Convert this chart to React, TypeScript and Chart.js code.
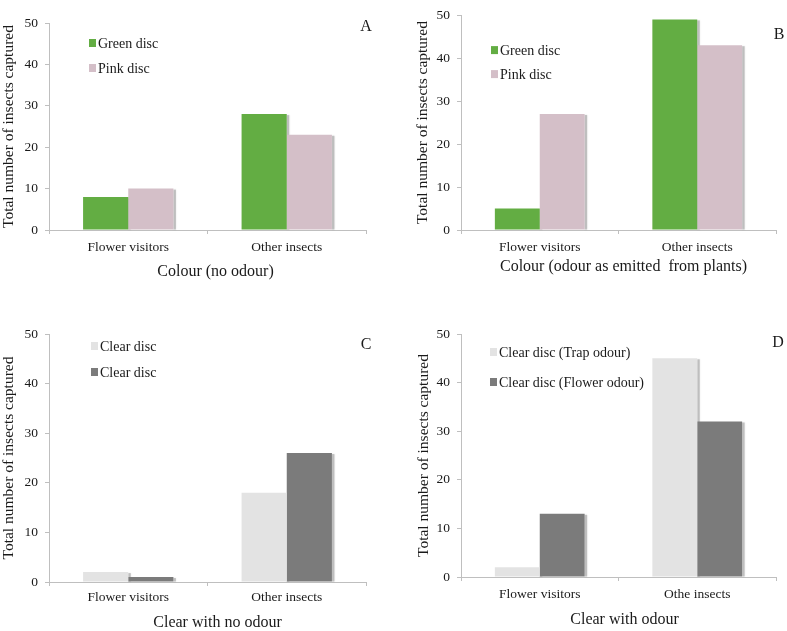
import React, { useEffect, useRef } from "react";
import { Chart, registerables } from "chart.js";

Chart.register(...registerables);

// ---------- data ----------
const categoriesA = ["Flower visitors", "Other insects"];
const categoriesB = ["Flower visitors", "Other insects"];
const categoriesC = ["Flower visitors", "Other insects"];
const categoriesD = ["Flower visitors", "Othe insects"];

const greenA = [8, 28];
const pinkA = [10, 23];
const greenB = [5, 49];
const pinkB = [27, 43];
const clearC1 = [2, 18];
const clearC2 = [1, 26];
const trapOdourD = [2, 45];
const flowerOdourD = [13, 32];

const yMin = 0;
const yMax = 50;
const yStep = 10;

// ---------- styles ----------
const FONT = '"Liberation Serif", "Times New Roman", serif';
const GREEN = "#63ad43";
const PINK = "#d4bfc8";
const LIGHT = "#e3e3e3";
const DARK = "#7b7b7b";
const AXIS = "#bfbfbf";
const TEXT = "#1a1a1a";

const shadowPlugin = {
  id: "barShadow",
  beforeDatasetsDraw(chart: any) {
    const ctx = chart.ctx;
    ctx.save();
    ctx.shadowColor = "rgba(0,0,0,0.25)";
    ctx.shadowBlur = 2;
    ctx.fillStyle = "rgba(150,150,150,0.5)";
    chart.data.datasets.forEach((_: any, i: number) => {
      const meta = chart.getDatasetMeta(i);
      meta.data.forEach((el: any) => {
        const right = el.x + el.width / 2;
        ctx.fillRect(right, el.y + 1, 2.5, el.base - el.y - 1);
      });
    });
    ctx.restore();
  },
};

const boxLegendPlugin = {
  id: "boxLegend",
  afterDraw(chart: any, _args: any, opts: any) {
    const ctx = chart.ctx;
    const ca = chart.chartArea;
    ctx.save();
    ctx.font = `14px ${FONT}`;
    ctx.textBaseline = "middle";
    ctx.textAlign = "left";
    chart.data.datasets.forEach((ds: any, i: number) => {
      const cy = ca.top + opts.dy[i];
      const x = ca.left + opts.dx;
      ctx.fillStyle = ds.backgroundColor;
      ctx.fillRect(x, cy - 4, 7, 8);
      ctx.fillStyle = TEXT;
      ctx.fillText(ds.label, x + 9, cy + 1);
    });
    ctx.restore();
  },
};

const textPlugin = {
  id: "panelText",
  afterDraw(chart: any, _args: any, opts: any) {
    const ctx = chart.ctx;
    const ca = chart.chartArea;
    ctx.save();
    ctx.textBaseline = "middle";
    ctx.textAlign = "center";
    ctx.fillStyle = TEXT;
    ctx.font = `16px ${FONT}`;
    ctx.fillText(opts.letter, ca.right + opts.letterDx, ca.top + opts.letterDy);
    ctx.fillText(
      opts.xTitle,
      (ca.left + ca.right) / 2 + opts.titleDx,
      ca.bottom + opts.titleDy
    );
    ctx.restore();
  },
};

type PanelProps = {
  left: number;
  top: number;
  width: number;
  height: number;
  padLeft: number;
  padTop: number;
  padRight: number;
  yWidth: number;
  xHeight: number;
  tickPad: number;
  labels: string[];
  series: { label: string; data: number[]; color: string }[];
  xTitle: string;
  titleDx: number;
  titleDy: number;
  letter: string;
  letterDx: number;
  letterDy: number;
  legendDx: number;
  legendDy: number[];
};

function Panel(p: PanelProps) {
  const ref = useRef<HTMLCanvasElement | null>(null);
  useEffect(() => {
    if (!ref.current) return;
    const chart = new Chart(ref.current, {
      type: "bar",
      data: {
        labels: p.labels,
        datasets: p.series.map((s) => ({
          label: s.label,
          data: s.data,
          backgroundColor: s.color,
          borderWidth: 0,
          categoryPercentage: 0.57,
          barPercentage: 1,
        })),
      },
      options: {
        animation: false,
        responsive: false,
        maintainAspectRatio: false,
        layout: {
          padding: { left: p.padLeft, top: p.padTop, right: p.padRight, bottom: 0 },
        },
        plugins: {
          legend: { display: false },
          tooltip: { enabled: false },
          boxLegend: { dx: p.legendDx, dy: p.legendDy },
          panelText: {
            letter: p.letter,
            letterDx: p.letterDx,
            letterDy: p.letterDy,
            xTitle: p.xTitle,
            titleDx: p.titleDx,
            titleDy: p.titleDy,
          },
        } as any,
        scales: {
          x: {
            grid: {
              display: true,
              drawOnChartArea: false,
              drawTicks: true,
              tickLength: 4,
              color: AXIS,
              offset: true,
            },
            border: { display: true, color: AXIS, width: 1 },
            ticks: {
              color: TEXT,
              font: { family: FONT, size: 13.5 },
              padding: p.tickPad,
              maxRotation: 0,
            },
            afterFit: (s: any) => {
              s.height = p.xHeight;
            },
          },
          y: {
            min: yMin,
            max: yMax,
            grid: {
              display: true,
              drawOnChartArea: false,
              drawTicks: true,
              tickLength: 4,
              color: AXIS,
            },
            border: { display: true, color: AXIS, width: 1 },
            ticks: {
              stepSize: yStep,
              color: TEXT,
              font: { family: FONT, size: 13.5 },
              padding: 7,
            },
            title: {
              display: true,
              text: "Total number of insects captured",
              color: TEXT,
              font: { family: FONT, size: 15.5, lineHeight: 1 },
              padding: { top: 0, bottom: 0 },
            },
            afterFit: (s: any) => {
              s.width = p.yWidth;
            },
          },
        },
      },
      plugins: [shadowPlugin, boxLegendPlugin, textPlugin],
    });
    return () => chart.destroy();
  }, []);
  return (
    <canvas
      ref={ref}
      width={p.width}
      height={p.height}
      style={{
        position: "absolute",
        left: p.left,
        top: p.top,
        width: p.width,
        height: p.height,
      }}
    />
  );
}

export default function App() {
  return (
    <div
      style={{
        position: "absolute",
        left: 0,
        top: 0,
        width: 787,
        height: 631,
        background: "#ffffff",
        overflow: "hidden",
      }}
    >
      <Panel
        left={0}
        top={0}
        width={393}
        height={290}
        padLeft={1}
        padTop={23}
        padRight={27}
        yWidth={48}
        xHeight={60}
        tickPad={5}
        labels={categoriesA}
        series={[
          { label: "Green disc", data: greenA, color: GREEN },
          { label: "Pink disc", data: pinkA, color: PINK },
        ]}
        xTitle="Colour (no odour)"
        titleDx={8}
        titleDy={42}
        letter="A"
        letterDx={0}
        letterDy={4}
        legendDx={40}
        legendDy={[20, 45]}
      />
      <Panel
        left={393}
        top={0}
        width={394}
        height={290}
        padLeft={22}
        padTop={7}
        padRight={11}
        yWidth={46}
        xHeight={60}
        tickPad={5}
        labels={categoriesB}
        series={[
          { label: "Green disc", data: greenB, color: GREEN },
          { label: "Pink disc", data: pinkB, color: PINK },
        ]}
        xTitle="Colour (odour as emitted  from plants)"
        titleDx={5}
        titleDy={37}
        letter="B"
        letterDx={3}
        letterDy={20}
        legendDx={30}
        legendDy={[35, 59]}
      />
      <Panel
        left={0}
        top={310}
        width={393}
        height={321}
        padLeft={1}
        padTop={24}
        padRight={27}
        yWidth={48}
        xHeight={49}
        tickPad={3}
        labels={categoriesC}
        series={[
          { label: "Clear disc", data: clearC1, color: LIGHT },
          { label: "Clear disc", data: clearC2, color: DARK },
        ]}
        xTitle="Clear with no odour"
        titleDx={10}
        titleDy={41}
        letter="C"
        letterDx={0}
        letterDy={11}
        legendDx={42}
        legendDy={[12, 38]}
      />
      <Panel
        left={393}
        top={310}
        width={394}
        height={321}
        padLeft={23}
        padTop={24}
        padRight={11}
        yWidth={45}
        xHeight={54}
        tickPad={5}
        labels={categoriesD}
        series={[
          { label: "Clear disc (Trap odour)", data: trapOdourD, color: LIGHT },
          { label: "Clear disc (Flower odour)", data: flowerOdourD, color: DARK },
        ]}
        xTitle="Clear with odour"
        titleDx={6}
        titleDy={43}
        letter="D"
        letterDx={2}
        letterDy={9}
        legendDx={29}
        legendDy={[18, 48]}
      />
    </div>
  );
}
